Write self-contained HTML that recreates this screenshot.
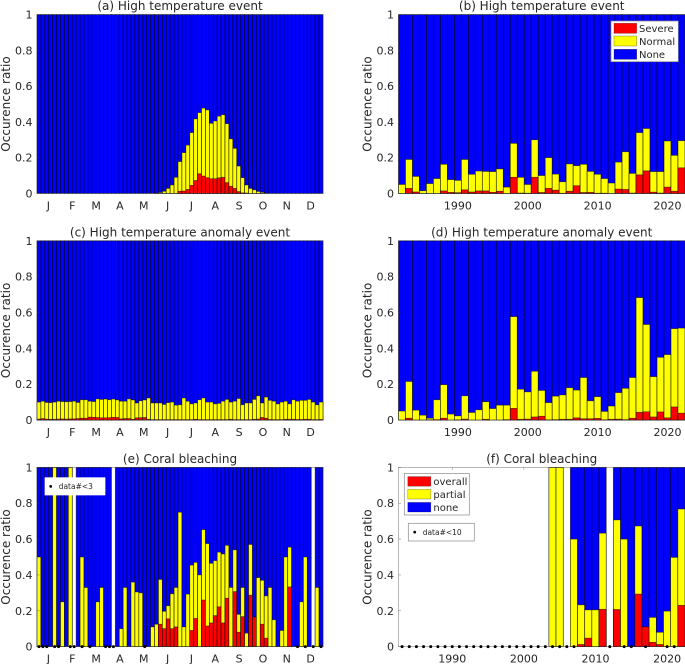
<!DOCTYPE html>
<html lang="en">
<head>
<meta charset="utf-8">
<title>Occurrence ratio charts</title>
<style>
html,body{margin:0;padding:0;background:#fff;}
body{width:685px;height:664px;overflow:hidden;}
svg{display:block;font-family:"DejaVu Sans","Liberation Sans",sans-serif;}
text{fill:#262626;}
</style>
</head>
<body>
<svg id="figure" xmlns="http://www.w3.org/2000/svg" width="685" height="664" viewBox="0 0 685 664"></svg>
<script>
const monthLabels = ['J','F','M','A','M','J','J','A','S','O','N','D'];
const yTickValues = [0, 0.2, 0.4, 0.6, 0.8, 1];
const yTickLabels = ['0', '0.2', '0.4', '0.6', '0.8', '1'];
const yearTicks = [1990, 2000, 2010, 2020];

const panelAYellow = [0,0,0,0,0,0,0,0,0,0,0,0,0,0,0,0,0,0,0,0,0,0,0,0,0,0,0,0,0,0,0.001,0.005,0.012,0.028,0.047,0.09,0.178,0.228,0.27,0.34,0.417,0.452,0.477,0.467,0.392,0.405,0.432,0.44,0.39,0.305,0.252,0.153,0.088,0.047,0.028,0.02,0.011,0.006,0.002,0,0,0,0,0,0,0,0,0,0,0,0,0,0];
const panelARed = [0,0,0,0,0,0,0,0,0,0,0,0,0,0,0,0,0,0,0,0,0,0,0,0,0,0,0,0,0,0,0,0,0,0,0,0,0.012,0.013,0.022,0.045,0.072,0.11,0.097,0.088,0.082,0.082,0.087,0.09,0.06,0.04,0.028,0.01,0.003,0.002,0,0,0,0,0,0,0,0,0,0,0,0,0,0,0,0,0,0,0];

const panelBYellow = [0.05,0.19,0.095,0.015,0.055,0.083,0.163,0.077,0.073,0.19,0.107,0.125,0.123,0.122,0.137,0.035,0.28,0.09,0.05,0.30,0.10,0.20,0.108,0.065,0.165,0.155,0.163,0.123,0.107,0.083,0.058,0.175,0.233,0.112,0.34,0.363,0.122,0.122,0.293,0.213,0.295];
const panelBRed = [0,0.028,0.008,0,0,0,0.014,0.006,0.004,0.02,0.008,0.014,0.014,0.006,0.012,0,0.09,0.002,0.001,0.09,0.005,0.028,0.018,0.001,0.012,0.043,0.005,0.006,0.001,0.001,0,0.024,0.022,0.002,0.104,0.126,0.007,0.002,0.035,0.012,0.143];

const panelCYellow = [0.10,0.105,0.098,0.097,0.10,0.105,0.103,0.102,0.103,0.105,0.098,0.113,0.113,0.105,0.103,0.118,0.115,0.117,0.113,0.117,0.112,0.105,0.105,0.118,0.112,0.095,0.107,0.112,0.123,0.095,0.095,0.095,0.087,0.097,0.10,0.083,0.085,0.123,0.105,0.09,0.095,0.113,0.123,0.10,0.10,0.09,0.093,0.105,0.115,0.10,0.105,0.12,0.085,0.095,0.095,0.115,0.135,0.095,0.128,0.11,0.105,0.09,0.10,0.105,0.09,0.113,0.105,0.11,0.11,0.115,0.10,0.085,0.10];
const panelCRed = [0.005,0.008,0.005,0.004,0.004,0.005,0.006,0.005,0.006,0.006,0.008,0.01,0.01,0.016,0.015,0.014,0.012,0.012,0.013,0.015,0.014,0.006,0.008,0.008,0.004,0.012,0.013,0.014,0.004,0.002,0.002,0.002,0.002,0.002,0.002,0.002,0.002,0.002,0.002,0.002,0.004,0.002,0.002,0.002,0.002,0.002,0.002,0.002,0.002,0.004,0.002,0.002,0.002,0.002,0.002,0.004,0.005,0.014,0.01,0.003,0.002,0.002,0.002,0.004,0.004,0.004,0.003,0.003,0.004,0.004,0.002,0.002,0.003];

const panelDYellow = [0.05,0.215,0.055,0.027,0.01,0.113,0.197,0.033,0.023,0.135,0.042,0.057,0.102,0.064,0.083,0.083,0.577,0.172,0.157,0.272,0.165,0.097,0.133,0.14,0.18,0.167,0.237,0.107,0.13,0.048,0.078,0.153,0.177,0.237,0.683,0.533,0.242,0.35,0.365,0.51,0.513];
const panelDRed = [0,0.01,0,0,0.001,0.002,0.01,0,0.001,0.005,0,0,0.004,0,0,0.002,0.065,0.004,0.005,0.017,0.021,0.001,0.002,0.004,0.004,0.012,0.007,0.007,0.009,0.001,0.004,0.005,0.002,0.01,0.043,0.046,0.017,0.045,0.012,0.073,0.038];

const panelEYellow = [0.5,0,0,0,1,0,0.25,0,1,null,0,0.5,0.33,0,0,0.25,0.33,0,0,null,0,0.1,0.33,0,0.36,0.305,0.3,0,0,0.11,0.125,0.375,0.197,0.228,0.295,0.33,0.75,0.11,0.293,0.455,0.47,0.4,0.653,0.575,0.465,0.48,0.527,0.517,0.565,0.33,0.54,0.18,0.33,0.075,0.57,0.165,0.385,0.37,0.283,0.33,0.15,0,0.09,0.5,0.555,0,0,0.25,0.5,0,null,0.33,0];
const panelERed = [0,0,0,0,0,0,0,0,0,0,0,0,0,0,0,0,0,0,0,0,0,0,0,0,0,0,0,0,0,0,0,0.125,0.1,0.155,0.1,0.11,0,0,0,0.09,0.157,0,0.26,0.115,0.132,0.173,0.222,0.132,0.27,0,0.307,0.08,0.167,0,0.287,0.165,0,0.125,0.047,0,0,0,0,0,0.333,0,0,0,0,0,0,0,0];
const panelEFewData = [0,1,2,4,5,8,9,11,13,17,18,19,27,66,68,70,72];

const panelFYellow = [null,null,null,null,null,null,null,null,null,null,null,null,null,null,null,null,null,null,null,null,null,1,1,null,0.6,0.233,0.205,0.205,0.633,null,0.707,0.6,0,0.673,0.11,0.163,0.08,0.198,0.498,0.768];
const panelFRed = [0,0,0,0,0,0,0,0,0,0,0,0,0,0,0,0,0,0,0,0,0,0,0,0,0,0.012,0.047,0,0.208,0,0.207,0,0,0.293,0.11,0.024,0.012,0,0,0.23];
const panelFFewDataYears = [1983,1984,1985,1986,1987,1988,1989,1990,1991,1992,1993,1994,1995,1996,1997,1998,1999,2000,2001,2002,2003,2004,2005,2006,2007,2012,2014,2015,2017,2020,2021];

const NS = 'http://www.w3.org/2000/svg';
const figure = document.getElementById('figure');
const BLUE = '#0000ff', YELLOW = '#ffff00', RED = '#ff0000', EDGE = 'rgba(0,0,0,0.6)';

function mk(tag, attrs, parent, content) {
  const el = document.createElementNS(NS, tag);
  for (const k in attrs) el.setAttribute(k, attrs[k]);
  if (content !== undefined) el.textContent = content;
  parent.appendChild(el);
  return el;
}

function drawPanel(name, title, box, slots, domainStart, yellow, red, xTickFn, fewX) {
  const g = mk('g', {}, figure);
  
  
  const w = box.right - box.left, h = box.bottom - box.top;
  const xScale = v => box.left + (v - domainStart) / slots * w;
  const yScale = v => box.bottom - v * h;

  const t = mk('text', {x: box.titleX, y: box.top - 4.5, 'font-size': 12, 'text-anchor': 'middle'}, g, title);
  
  

  const bars = mk('g', {}, g);
  
  
  yellow.forEach((val, i) => {
    if (val === null) return;
    const x0 = xScale(domainStart + i), bw = xScale(domainStart + i + 1) - x0;
    const top = Math.min(val + 0, 1), r = red[i] || 0;
    const none = mk('rect', {x: x0, y: yScale(1), width: bw, height: h, fill: BLUE, stroke: EDGE, 'stroke-width': 0.8}, bars);
    
    
    if (top > 0) {
      const yb = mk('rect', {x: x0, y: yScale(top), width: bw, height: yScale(0) - yScale(top), fill: YELLOW, stroke: EDGE, 'stroke-width': 0.7}, bars);
      
      
    }
    if (r > 0) {
      const rb = mk('rect', {x: x0, y: yScale(r), width: bw, height: yScale(0) - yScale(r), fill: RED, stroke: EDGE, 'stroke-width': 0.7}, bars);
      
      
    }
  });

  const frame = mk('rect', {x: box.left, y: box.top, width: w, height: h, fill: 'none', stroke: 'rgba(60,60,60,0.6)', 'stroke-width': 0.6}, g);
  
  

  yTickValues.forEach((v, i) => {
    const lab = mk('text', {x: box.left - 4.5, y: yScale(v) + 4, 'font-size': 11, 'text-anchor': 'end'}, g, yTickLabels[i]);
    
    
    const tk = mk('line', {x1: box.left, x2: box.left + 2.5, y1: yScale(v), y2: yScale(v), stroke: 'rgba(60,60,60,0.6)', 'stroke-width': 0.6}, g);
    
    
  });

  const cy = (box.top + box.bottom) / 2;
  const yl = mk('text', {x: box.ylabelX, y: cy, 'font-size': 12, 'text-anchor': 'middle', transform: 'rotate(-90 ' + box.ylabelX + ' ' + cy + ')'}, g, 'Occurence ratio');
  
  

  xTickFn(g, xScale, box);

  if (fewX) {
    fewX.forEach(c => {
      const d = mk('circle', {cx: xScale(c), cy: box.bottom, r: 1.5, fill: '#000'}, g);
      
      
    });
  }
}

function monthTicks(g, xScale, box) {
  monthLabels.forEach((m, i) => {
    const x = box.left + (i + 0.5) * (box.right - box.left) / 12 - 0.5;
    const t = mk('text', {x: x, y: box.bottom + 16, 'font-size': 11, 'text-anchor': 'middle'}, g, m);
    
    
  });
}

function yearTickDraw(g, xScale, box) {
  yearTicks.forEach(y => {
    const x = xScale(y + 0.5);
    const t = mk('text', {x: x, y: box.bottom + 16, 'font-size': 11, 'text-anchor': 'middle'}, g, String(y));
    
    
    const tk = mk('line', {x1: x, x2: x, y1: box.top, y2: box.top + 2.5, stroke: 'rgba(60,60,60,0.6)', 'stroke-width': 0.6}, g);
    
    
  });
}

const leftCol = {left: 37, right: 323, titleX: 180, ylabelX: 10};
const rightCol = {left: 398.5, right: 685, titleX: 541.7, ylabelX: 371.5};
const row1 = {top: 14.6, bottom: 193.4};
const row2 = {top: 240.8, bottom: 420};
const row3 = {top: 467.4, bottom: 646.6};

drawPanel('panel-a', '(a) High temperature event', {...leftCol, ...row1}, 73, 0, panelAYellow, panelARed, monthTicks);
drawPanel('panel-b', '(b) High temperature event', {...rightCol, ...row1}, 41, 1982, panelBYellow, panelBRed, yearTickDraw);
drawPanel('panel-c', '(c) High temperature anomaly event', {...leftCol, ...row2}, 73, 0, panelCYellow, panelCRed, monthTicks);
drawPanel('panel-d', '(d) High temperature anomaly event', {...rightCol, ...row2}, 41, 1982, panelDYellow, panelDRed, yearTickDraw);
drawPanel('panel-e', '(e) Coral bleaching', {...leftCol, ...row3}, 73, 0, panelEYellow, panelERed, monthTicks, panelEFewData.map(k => k + 0.5));
drawPanel('panel-f', '(f) Coral bleaching', {...rightCol, ...row3}, 40, 1983, panelFYellow, panelFRed, yearTickDraw, panelFFewDataYears.map(y => y + 0.5));

function drawLegend(name, bx, by, bw, bh, labels, swX, swW, swTops, swH, textX) {
  const g = mk('g', {}, figure);
  
  
  mk('rect', {x: bx, y: by, width: bw, height: bh, fill: '#fff', stroke: '#8a8a8a', 'stroke-width': 0.7}, g);
  const cols = [RED, YELLOW, BLUE];
  labels.forEach((lab, i) => {
    const sw = mk('rect', {x: swX, y: swTops[i], width: swW, height: swH, fill: cols[i], stroke: 'rgba(0,0,0,0.4)', 'stroke-width': 0.6}, g);
    
    
    const t = mk('text', {x: textX, y: swTops[i] + swH - 1.2, 'font-size': 10}, g, lab);
    
    
  });
}
function drawNote(name, bx, by, bw, bh, dotX, label, stroke) {
  const g = mk('g', {}, figure);
  
  
  mk('rect', {x: bx, y: by, width: bw, height: bh, fill: '#fff', stroke: stroke, 'stroke-width': 0.7}, g);
  mk('circle', {cx: dotX, cy: by + bh / 2, r: 1.4, fill: '#000'}, g);
  const t = mk('text', {x: dotX + 8, y: by + bh / 2 + 2.7, 'font-size': 7.5}, g, label);
  
  
}
drawLegend('legend-b', 611, 21, 67.3, 40.7, ['Severe', 'Normal', 'None'], 614, 22.7, [23.3, 36, 49.3], 10, 639);
drawLegend('legend-f', 404.3, 473.4, 65, 41.6, ['overall', 'partial', 'none'], 407.8, 23, [476.6, 489.4, 502.4], 9.6, 433.4);
drawNote('few-data-note-e', 45, 477.7, 60, 17.3, 50.7, 'data#<3', '#fff');
drawNote('few-data-note-f', 408.3, 523.3, 66, 17.7, 414.7, 'data#<10', '#8a8a8a');
</script>
</body>
</html>
